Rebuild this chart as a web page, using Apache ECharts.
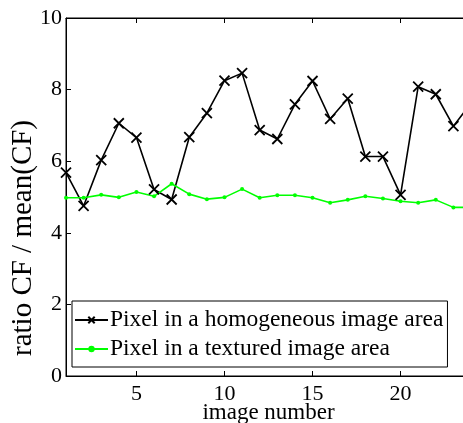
<!DOCTYPE html>
<html>
<head>
<meta charset="utf-8">
<script src="https://cdn.jsdelivr.net/npm/echarts@6/dist/echarts.min.js"></script>
<style>
  html, body { margin: 0; padding: 0; background: #fff; }
  #chart { width: 463px; height: 423px; }
</style>
</head>
<body>
<div id="chart"></div>
<script>
// Image index along the horizontal axis
const imageNumbers = [1, 2, 3, 4, 5, 6, 7, 8, 9, 10, 11, 12, 13, 14, 15, 16, 17, 18, 19, 20, 21, 22, 23, 24];
// CF ratio for a pixel in a homogeneous area
const homogeneous = [5.68, 4.75, 6.03, 7.06, 6.66, 5.21, 4.93, 6.67, 7.34, 8.25, 8.46, 6.87,
                     6.62, 7.59, 8.24, 7.18, 7.75, 6.13, 6.13, 5.06, 8.08, 7.87, 6.98, 7.62];
// CF ratio for a pixel in a textured area
const textured = [4.98, 4.98, 5.06, 4.99, 5.14, 5.02, 5.37, 5.08, 4.94, 4.99, 5.22, 4.98,
                  5.05, 5.05, 4.98, 4.84, 4.92, 5.02, 4.96, 4.88, 4.84, 4.92, 4.71, 4.71];
const xTicks = [5, 10, 15, 20];
const yTicks = [0, 2, 4, 6, 8, 10];

const seriesNames = ['Pixel in a homogeneous image area', 'Pixel in a textured image area'];
const FONT = '"Liberation Serif", "DejaVu Serif", serif';
const crossPath = 'path://M0,0L10,10M10,0L0,10';

const chart = echarts.init(document.getElementById('chart'), null, { renderer: 'canvas' });

const pairs = (ys) => imageNumbers.map((x, i) => [x, ys[i]]);

chart.setOption({
  animation: false,
  backgroundColor: '#fff',
  grid: {
    left: 66, top: 18, right: -8, bottom: 47,
    outerBoundsMode: 'none', containLabel: false,
    show: true, borderColor: '#000', borderWidth: 1
  },
  xAxis: [{
    type: 'value', min: 1, max: 24,
    name: 'image number', nameLocation: 'middle', nameGap: 25, nameMoveOverlap: false,
    nameTextStyle: { fontFamily: FONT, fontSize: 23, color: '#000', verticalAlign: 'top' },
    axisLine: { show: true, lineStyle: { color: '#000', width: 1 } },
    axisTick: { show: true, inside: true, length: 5, customValues: xTicks, lineStyle: { color: '#000' } },
    axisLabel: { customValues: xTicks, fontFamily: FONT, fontSize: 22, color: '#000', margin: 7 },
    splitLine: { show: false }
  }, {
    type: 'value', min: 1, max: 24, position: 'top',
    axisLine: { show: true, lineStyle: { color: '#000', width: 1 } },
    axisTick: { show: true, inside: true, length: 5, customValues: xTicks, lineStyle: { color: '#000' } },
    axisLabel: { show: false },
    splitLine: { show: false }
  }],
  yAxis: {
    type: 'value', min: 0, max: 10, interval: 2,
    name: 'ratio CF / mean(CF)', nameLocation: 'middle', nameGap: 28, nameMoveOverlap: false,
    nameTextStyle: { fontFamily: FONT, fontSize: 29, color: '#000', padding: [0, 82, 0, 0] },
    axisLine: { show: true, lineStyle: { color: '#000', width: 1 } },
    axisTick: { show: true, inside: true, length: 5, customValues: yTicks, lineStyle: { color: '#000' } },
    axisLabel: { customValues: yTicks, fontFamily: FONT, fontSize: 22, color: '#000', margin: 4 },
    splitLine: { show: false }
  },
  legend: {
    left: 72, top: 301, orient: 'vertical',
    data: seriesNames,
    itemWidth: 33, itemHeight: 8, itemGap: 5,
    padding: [7, 4, 6, 2],
    borderColor: '#000', borderWidth: 1, backgroundColor: '#fff',
    textStyle: { fontFamily: FONT, fontSize: 23.5, color: '#000', padding: [0, 0, 0, -3] }
  },
  series: [{
    name: seriesNames[0], type: 'line', xAxisIndex: 0,
    data: pairs(homogeneous),
    symbol: crossPath, symbolSize: 10, showAllSymbol: true,
    lineStyle: { color: '#000', width: 1.6 },
    itemStyle: { color: '#000', borderColor: '#000', borderWidth: 1.8 }
  }, {
    name: seriesNames[1], type: 'line', xAxisIndex: 0,
    data: pairs(textured),
    symbol: 'circle', symbolSize: 4, showAllSymbol: true,
    lineStyle: { color: '#00ff00', width: 1.6 },
    itemStyle: { color: '#00ff00', borderWidth: 0 }
  }]
});
</script>
</body>
</html>
